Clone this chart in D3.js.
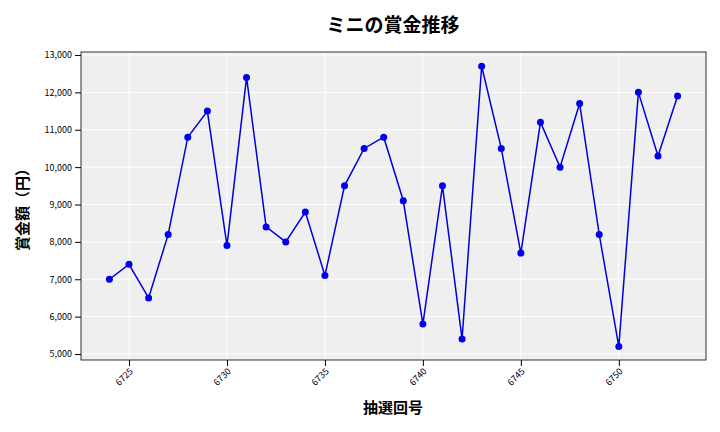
<!DOCTYPE html><html><head><meta charset="utf-8"><script src="https://cdn.jsdelivr.net/npm/d3@7"></script>
<style>body{margin:0;background:#fff}text{font-family:"Noto Sans CJK JP","Noto Sans",sans-serif}</style></head><body><svg id="c" width="720" height="432"></svg><script>
const draws=[6724,6725,6726,6727,6728,6729,6730,6731,6732,6733,6734,6735,6736,6737,6738,6739,6740,6741,6742,6743,6744,6745,6746,6747,6748,6749,6750,6751,6752,6753];
const prizes=[7000,7400,6500,8200,10800,11500,7900,12400,8400,8000,8800,7100,9500,10500,10800,9100,5800,9500,5400,12700,10500,7700,11200,10000,11700,8200,5200,12000,10300,11900];
const xTicks=[6725,6730,6735,6740,6745,6750];
const yTicks=[5000,6000,7000,8000,9000,10000,11000,12000,13000];
const svg=d3.select("#c");
const L=81,R=706,T=52,B=360;
const x=d3.scaleLinear().domain([6722.55,6754.45]).range([L,R]);
const y=d3.scaleLinear().domain([4840,13080]).range([B,T]);
svg.append("rect").attr("x",L).attr("y",T).attr("width",R-L).attr("height",B-T).attr("fill","#efefef");
svg.append("g").selectAll("line").data(xTicks).join("line").attr("x1",d=>x(d)).attr("x2",d=>x(d)).attr("y1",T).attr("y2",B).attr("stroke","#fff");
svg.append("g").selectAll("line").data(yTicks).join("line").attr("y1",d=>y(d)).attr("y2",d=>y(d)).attr("x1",L).attr("x2",R).attr("stroke","#fff");
svg.append("rect").attr("x",L).attr("y",T).attr("width",R-L).attr("height",B-T).attr("fill","none").attr("stroke","#000").attr("stroke-width",0.8);
const xa=svg.append("g").attr("transform",`translate(0,${B})`).call(d3.axisBottom(x).tickValues(xTicks).tickFormat(d3.format("d")).tickSizeOuter(0));
xa.select(".domain").remove();
xa.selectAll("text").attr("font-size",9).attr("y",0).attr("dy",0).attr("text-anchor","end").attr("transform","translate(4,12) rotate(-45)");
const ya=svg.append("g").attr("transform",`translate(${L},0)`).call(d3.axisLeft(y).tickValues(yTicks).tickFormat(d3.format(",")).tickSizeOuter(0));
ya.select(".domain").remove();ya.selectAll("text").attr("font-size",9);
svg.append("path").datum(draws.map((d,i)=>[d,prizes[i]])).attr("fill","none").attr("stroke","#0000dd").attr("stroke-width",1.5).attr("d",d3.line().x(d=>x(d[0])).y(d=>y(d[1])));
svg.append("g").selectAll("circle").data(prizes).join("circle").attr("cx",(d,i)=>x(draws[i])).attr("cy",d=>y(d)).attr("r",3.5).attr("fill","#0000ee");
svg.append("text").attr("x",393).attr("y",32).attr("text-anchor","middle").attr("font-size",19).attr("font-weight","bold").text("ミニの賞金推移");
svg.append("text").attr("x",393).attr("y",413).attr("text-anchor","middle").attr("font-size",15).attr("font-weight","bold").text("抽選回号");
svg.append("text").attr("transform","translate(28,206) rotate(-90)").attr("text-anchor","middle").attr("font-size",15).attr("font-weight","bold").text("賞金額（円）");
</script></body></html>
